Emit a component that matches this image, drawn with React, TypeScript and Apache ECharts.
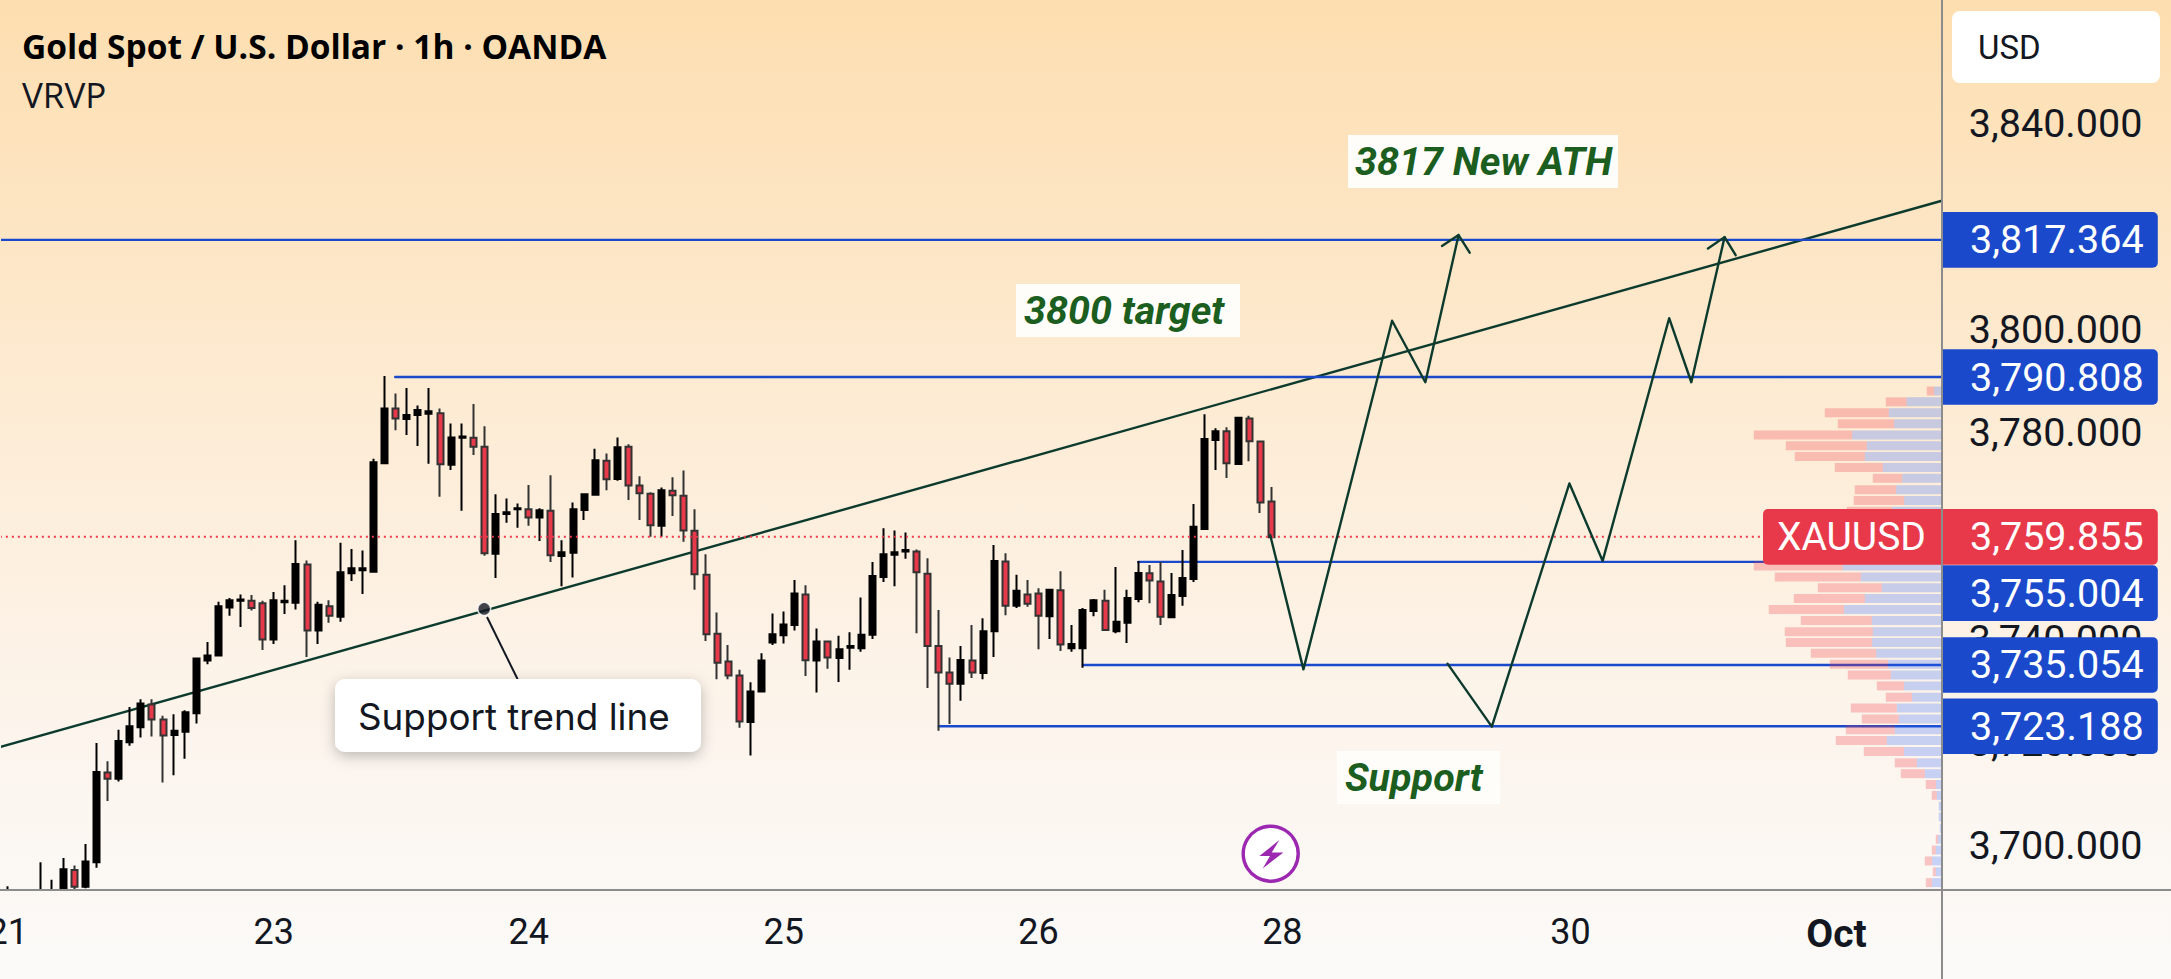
import React, { useEffect, useRef } from "react";
import * as echarts from "echarts";

const W = 2171;
const H = 979;

// x-axis date labels by bar index
const dateLabels: Record<number, string> = { 0: "21", 24: "23", 47: "24", 70: "25", 93: "26", 115: "28", 141: "30", 165: "Oct" };
const barCount = 175;
const priceTicks = [3700, 3720, 3740, 3760, 3780, 3800, 3820, 3840];
const priceMin = 3691.47;
const priceMax = 3863.82;

const opens = [
  3691.47,3678,3678,3691.47,3691.47,3691.47,3695.36,3692.1,3696.85,3714.2,
  3713,3720.1,3723,3727.4,3724.5,3721.5,3722.1,3725.7,3735.9,3736.9,
  3746.2,3747.5,3747.5,3747,3740,3747.2,3747.1,3754.5,3741.7,3746.4,
  3744.4,3752.8,3753.4,3753.1,3774.1,3784.7,3782.7,3783.45,3783.7,3783.8,
  3773.8,3779.06,3779.06,3777.3,3756.6,3764.3,3765.2,3765.2,3763.6,3764.9,
  3756.14,3756.8,3765.05,3768,3774.6,3771.06,3777.3,3769.8,3768.2,3762,
  3768.8,3767.8,3761.05,3752.5,3741.1,3735.7,3733,3724,3729.9,3739.4,
  3740.8,3742.8,3748.7,3735.9,3739.6,3736.4,3738.4,3738.3,3740.9,3752.1,
  3756.4,3757,3757,3752.7,3738.7,3733.6,3731.4,3735.9,3733.5,3741.6,
  3755.1,3746.5,3748.7,3748.9,3744.5,3749.5,3738.3,3738.3,3745.5,3747.5,
  3741.6,3743.2,3747.8,3752.8,3751.2,3744.3,3748.4,3751.7,3761.4,3778.6,
  3780.3,3773.96,3782.8,3778.3,3766.7,
];
const closes = [
  3691.47,3682,3682,3691.47,3691.47,3695.5,3692.1,3697,3714.3,3713,
  3720.3,3723.2,3727.6,3724.5,3721.4,3722.3,3725.9,3736.3,3736.9,3746.4,
  3747.6,3747.74,3746.1,3740,3747.6,3747.5,3754.6,3741.7,3746.7,3744.6,
  3753,3753.8,3753.8,3774.3,3784.7,3782.8,3783.45,3784.4,3784.2,3773.9,
  3779.1,3779.3,3777.3,3756.7,3764.3,3764.6,3765.4,3763.6,3765,3756.3,
  3756.9,3765.2,3768.1,3774.7,3771,3777.2,3769.8,3768.3,3762.1,3768.9,
  3767.9,3761.1,3752.6,3741,3735.5,3733,3724.1,3729.9,3735.9,3741,
  3742.9,3748.9,3735.95,3739.6,3736.5,3738.1,3738.7,3740.9,3752.3,3756.5,
  3756.9,3757.3,3753,3738.7,3733.6,3731.4,3736,3733.6,3741.6,3755.2,
  3746.5,3749.4,3746.9,3744.6,3749.6,3739,3739.1,3745.7,3747.6,3741.8,
  3743.4,3748,3752.85,3751.4,3744.4,3748.6,3751.9,3761.8,3778.8,3780.3,
  3774.1,3782.9,3778.35,3766.5,3759.8,
];
const lows = [
  3691.47,3675,3675,3691.47,3691.47,3691.47,3691.6,3691.8,3695.8,3708.7,
  3712.5,3719.4,3721,3721.2,3712.3,3713.7,3716.9,3723.7,3735.2,3736.9,
  3744.6,3742.4,3745.6,3737.96,3739.1,3744.9,3745.8,3736.6,3739.1,3743.2,
  3743.4,3751.3,3748.8,3753.1,3774,3780.5,3779.6,3777.45,3774,3767.6,
  3772.8,3764.9,3775.7,3756.2,3751.9,3762.6,3761.6,3762,3759.05,3755,
  3750.3,3752,3763.1,3767.9,3768.9,3770.7,3767,3763.1,3759.9,3759.9,
  3763.9,3758.9,3749.6,3739.7,3732.3,3732.3,3722.9,3717.5,3729.9,3738.9,
  3739.2,3741.7,3732.9,3729.7,3734.3,3731.75,3734.1,3737.6,3740.1,3751.1,
  3750.3,3755.6,3741.2,3730.6,3722.3,3723.6,3728.1,3732.5,3732.3,3736.6,
  3744.7,3746.1,3746.3,3738.1,3740.1,3737.75,3737.6,3734.5,3744.5,3741.8,
  3741.2,3739.3,3747.2,3747,3742.8,3744.3,3746.5,3751.1,3761.4,3772.8,
  3771.25,3773.96,3774.5,3764.5,3759.8,
];
const highs = [
  3692.2,3688,3688,3696.85,3693.46,3697.67,3696.2,3700.4,3719.95,3716.4,
  3722.5,3726.9,3728.4,3728.4,3725.2,3725.5,3726.3,3736.4,3739.5,3747.3,
  3748,3748.7,3748.6,3747.5,3749.2,3750.5,3759.2,3755.3,3747.3,3747.6,
  3758.7,3757.5,3757.2,3775,3791,3787.6,3788.7,3785.3,3788.7,3784.7,
  3781.8,3781.8,3785.6,3781.3,3768.1,3767.3,3766.3,3769.9,3765.4,3771.8,
  3759.2,3766.5,3768.3,3776.9,3776,3779.1,3777.8,3771.6,3768.5,3769.4,
  3771.4,3772.7,3765.2,3756.5,3745.2,3738.9,3734.1,3731.7,3737.3,3745,
  3745.4,3751.5,3750.5,3742.1,3739.6,3740.7,3741.4,3748.1,3755,3761.5,
  3761.1,3760.7,3757.4,3755.7,3745.7,3736.5,3738.7,3742.8,3744.1,3758.3,
  3756.7,3752.5,3751.5,3749.9,3749.6,3753.2,3742.8,3746.1,3747.8,3749.6,
  3754,3749.6,3755.2,3754.4,3755,3752.85,3757.3,3766.2,3783.6,3780.9,
  3781.1,3783.06,3783.3,3778.35,3769.5,
];

// Visible-range volume profile
const vrvpPrices = [
  3788.1,3786.0,3783.9,3781.75,3779.6,3777.5,3775.4,3773.3,3771.2,3769.0,
  3766.9,3764.8,3762.7,3760.6,3758.5,3756.35,3754.2,3752.1,3750.0,3747.9,
  3745.8,3743.65,3741.5,3739.4,3737.3,3735.2,3733.1,3731.0,3728.8,3726.7,
  3724.6,3722.5,3720.4,3718.3,3716.1,3714.0,3711.9,3709.8,3707.7,3705.6,
  3703.4,3701.3,3699.2,3697.1,3695.0,3692.9,3690.8,
];
const vrvpUp = [
  7.7,35.3,53,47.7,89.7,75,77,59,39.7,45.7,
  37.7,50,60,70,85,90,99,81,60,77,
  97.7,70,69,69.7,65.7,53.7,51,37.7,29.7,45,
  43,47,55,37.7,25,17,5.7,5,3,3,
  2,3.7,6,9.7,6,9.7,13,
];
const vrvpDown = [
  7.3,20.7,64,56.3,98.3,81,70,48,29.3,41.3,
  50.3,45,50,60,70,85,89,86,64,71,
  75.3,71,88,86.3,65.3,58.3,43,27.3,26.3,46,
  37,49,51,40.3,22,24,10.3,5,0,0,
  0,2.3,4,7.3,3,6.3,11,
];

// Drawing levels and their start bars
const levelPrices = [3817.364, 3790.808, 3755.004, 3735.054, 3723.188];
const levelStarts = [-0.72, 34.95, 102, 97, 84];
const levelTagAnchors = [3817.364, 3790.808, 3748.97, 3735.054, 3723.188];
const lastPrice = 3759.855;
const symbolName = "XAUUSD";

const trendLine = [[-0.72, 3719.17], [174.5, 3824.95]];
const pathA = [[113.9, 3760.2], [116.9, 3734.2], [124.9, 3801.7], [127.9, 3789.8], [130.9, 3818.3]];
const arrowA = [[129.4, 3816.2], [130.9, 3818.3], [131.9, 3814.9]];
const pathB = [[129.9, 3735.3], [133.9, 3723.1], [140.9, 3770.2], [143.9, 3755.2], [149.9, 3802.2], [151.9, 3789.8], [154.9, 3817.9]];
const arrowB = [[153.4, 3815.7], [154.9, 3817.9], [155.9, 3814.4]];
const calloutAnchor = [42.98, 3745.9];

const fmt = (v: number) => v.toLocaleString("en-US", { minimumFractionDigits: 3, maximumFractionDigits: 3 });

const GREEN = "#0c3b2e";
const BLUE = "#1a4acb";
const RED = "#e8394b";

export default function App() {
  const ref = useRef<HTMLDivElement>(null);
  useEffect(() => {
    document.body.style.margin = "0";
    const chart = echarts.init(ref.current!, undefined, { renderer: "svg", width: W, height: H });

    const categories = Array.from({ length: barCount }, (_, i) => {
      const label = dateLabels[i] ?? "";
      return label === "Oct" ? { value: label, textStyle: { fontWeight: "bold", fontSize: 39 } } : label;
    });
    const candles = opens.map((o, i) => [o, closes[i], lows[i], highs[i]]);
    const pathLine = (data: number[][], width = 2.4, color = GREEN, z = 6) => ({
      type: "line", xAxisIndex: 1, yAxisIndex: 0, data, showSymbol: false, clip: false, z, silent: true,
      lineStyle: { color, width, cap: "round", join: "round" },
    });

    const option: any = {
      animation: false,
      backgroundColor: new echarts.graphic.LinearGradient(0, 0, 0, 1, [
        { offset: 0, color: "#fddeb0" },
        { offset: 0.5, color: "#fdeedb" },
        { offset: 0.77, color: "#fcf5ee" },
        { offset: 1, color: "#fbfaf8" },
      ]),
      grid: { left: 2.3, top: 0, width: 1939.5, height: 890, outerBoundsMode: "none", containLabel: false },
      xAxis: [
        {
          type: "category", data: categories, boundaryGap: true, z: 0,
          axisLine: { show: false }, axisTick: { show: false }, splitLine: { show: false },
          axisLabel: {
            margin: 24, color: "#131722", fontFamily: "Roboto", fontSize: 36,
            interval: (_: number, v: string) => v !== "",
          },
        },
        { type: "value", min: -0.5, max: barCount - 0.5, show: false },
        { type: "value", min: 0, max: 1939.5, inverse: true, show: false },
      ],
      yAxis: [
        {
          type: "value", position: "right", min: priceMin, max: priceMax, z: 0,
          axisLine: { show: false }, axisTick: { show: false }, splitLine: { show: false },
          axisLabel: {
            customValues: priceTicks, margin: 27, color: "#131722", fontFamily: "Roboto", fontSize: 39.5,
            formatter: (v: number) => fmt(v),
          },
        },
      ],
      series: [
        pathLine(trendLine, 2.4, GREEN, 1),
        ...levelPrices.map((p, i) => pathLine([[levelStarts[i], p], [barCount - 0.5, p]], 2.4, BLUE, 1)),
        {
          type: "candlestick", data: candles, barWidth: 6.5, z: 2, silent: true,
          itemStyle: { color: "#000000", color0: RED, borderColor: "#000000", borderColor0: "#333333", borderWidth: 2 },
        },
        {
          ...pathLine([[-0.72, lastPrice], [barCount - 0.5, lastPrice]], 2, "#ee3a4c", 3),
          lineStyle: { color: "#ee3a4c", width: 2, type: [2, 4] },
        },
        pathLine(pathA), pathLine(arrowA), pathLine(pathB), pathLine(arrowB),
        {
          type: "custom", xAxisIndex: 2, yAxisIndex: 0, clip: true, z: 7, silent: true,
          data: vrvpPrices.map((p, i) => [vrvpUp[i], p]),
          renderItem: (params: any, api: any) => {
            const i = params.dataIndex;
            const price = api.value(1);
            const top = api.coord([0, price + 0.87]);
            const bottom = api.coord([0, price - 0.87]);
            const upEnd = api.coord([vrvpUp[i], price])[0];
            const downEnd = api.coord([vrvpUp[i] + vrvpDown[i], price])[0];
            return {
              type: "group",
              children: [
                { type: "rect", shape: { x: upEnd, y: top[1], width: top[0] - upEnd, height: bottom[1] - top[1] }, style: { fill: "rgba(41,98,255,0.25)" } },
                { type: "rect", shape: { x: downEnd, y: top[1], width: upEnd - downEnd, height: bottom[1] - top[1] }, style: { fill: "rgba(242,54,69,0.27)" } },
              ],
            };
          },
        },
        {
          type: "scatter", xAxisIndex: 1, yAxisIndex: 0, data: [calloutAnchor], symbolSize: 13, z: 8, silent: true, clip: false,
          itemStyle: { color: "#131722", borderColor: "#ffffff", borderWidth: 1.5 },
        },
        {
          type: "custom", xAxisIndex: 1, yAxisIndex: 0, clip: false, z: 10, silent: true,
          data: [...levelTagAnchors.map((p) => [barCount - 0.5, p]), [barCount - 0.5, lastPrice]],
          renderItem: (params: any, api: any) => {
            const i = params.dataIndex;
            const c = api.coord([api.value(0), api.value(1)]);
            const isLast = i === levelPrices.length;
            const children: any[] = [
              { type: "rect", shape: { x: c[0], y: c[1] - 27.8, width: 216, height: 55.6, r: [0, 5, 5, 0] }, style: { fill: isLast ? RED : BLUE } },
              { type: "text", style: { x: 1970, y: c[1], text: fmt(isLast ? lastPrice : levelPrices[i]), fill: "#ffffff", font: '39.5px Roboto', align: "left", verticalAlign: "middle" } },
            ];
            if (isLast) {
              children.push({ type: "rect", shape: { x: 1763, y: c[1] - 27.8, width: 179, height: 55.6, r: [5, 0, 0, 5] }, style: { fill: RED } });
              children.push({ type: "text", style: { x: 1777, y: c[1], text: symbolName, fill: "#ffffff", font: '39px Roboto', align: "left", verticalAlign: "middle" } });
            }
            return { type: "group", children };
          },
        },
      ],
      graphic: { elements: [
        { type: "text", z: 50, style: { x: 22, y: 46, text: "Gold Spot / U.S. Dollar · 1h · OANDA", fill: "#000000", font: 'bold 33.5px "Open Sans"', verticalAlign: "middle" } },
        { type: "text", z: 50, style: { x: 22, y: 94, text: "VRVP", fill: "#131722", font: '35px "Open Sans"', verticalAlign: "middle" } },

        { type: "rect", z: 50, shape: { x: 1952, y: 11, width: 208, height: 72, r: 8 }, style: { fill: "#ffffff" } },
        { type: "text", z: 51, style: { x: 1978, y: 47, text: "USD", fill: "#131722", font: '33px Roboto', verticalAlign: "middle" } },

        { type: "rect", z: 50, shape: { x: 1348, y: 135, width: 270, height: 53 }, style: { fill: "#fffdfa" } },
        { type: "text", z: 51, style: { x: 1355, y: 161, text: "3817 New ATH", fill: "#1b5e20", font: 'italic bold 39.5px Roboto', verticalAlign: "middle" } },
        { type: "rect", z: 50, shape: { x: 1016, y: 284, width: 224, height: 53 }, style: { fill: "#fffdfa" } },
        { type: "text", z: 51, style: { x: 1024, y: 310, text: "3800 target", fill: "#1b5e20", font: 'italic bold 39.5px Roboto', verticalAlign: "middle" } },
        { type: "rect", z: 50, shape: { x: 1337, y: 751, width: 163, height: 53 }, style: { fill: "#fffdfa" } },
        { type: "text", z: 51, style: { x: 1345, y: 777, text: "Support", fill: "#1b5e20", font: 'italic bold 39.5px Roboto', verticalAlign: "middle" } },

        { type: "line", z: 50, shape: { x1: 487, y1: 617, x2: 518, y2: 680 }, style: { stroke: "#131722", lineWidth: 2 } },
        { type: "rect", z: 51, shape: { x: 335, y: 679, width: 366, height: 73, r: 10 }, style: { fill: "#ffffff", shadowBlur: 14, shadowColor: "rgba(0,0,0,0.25)", shadowOffsetY: 4 } },
        { type: "text", z: 52, style: { x: 358, y: 716, text: "Support trend line", fill: "#131722", font: '36.8px Inter', verticalAlign: "middle" } },

        { type: "circle", z: 50, shape: { cx: 1270.7, cy: 853.7, r: 27.5 }, style: { fill: "#ffffff", stroke: "#9c27b0", lineWidth: 3.4 } },
        { type: "polygon", z: 51, shape: { points: [[1279.4, 840], [1259.4, 856], [1270, 856], [1262.7, 868.4], [1283.4, 852.4], [1271.7, 852.4]] }, style: { fill: "#9c27b0" } },

        { type: "line", z: 60, shape: { x1: 0, y1: 890, x2: W, y2: 890 }, style: { stroke: "#8c8c8c", lineWidth: 2 } },
        { type: "line", z: 60, shape: { x1: 1942, y1: 0, x2: 1942, y2: H }, style: { stroke: "#8c8c8c", lineWidth: 2 } },
      ] },
    };
    chart.setOption(option);
    return () => chart.dispose();
  }, []);
  return <div ref={ref} style={{ position: "absolute", left: 0, top: 0, width: W, height: H }} />;
}
